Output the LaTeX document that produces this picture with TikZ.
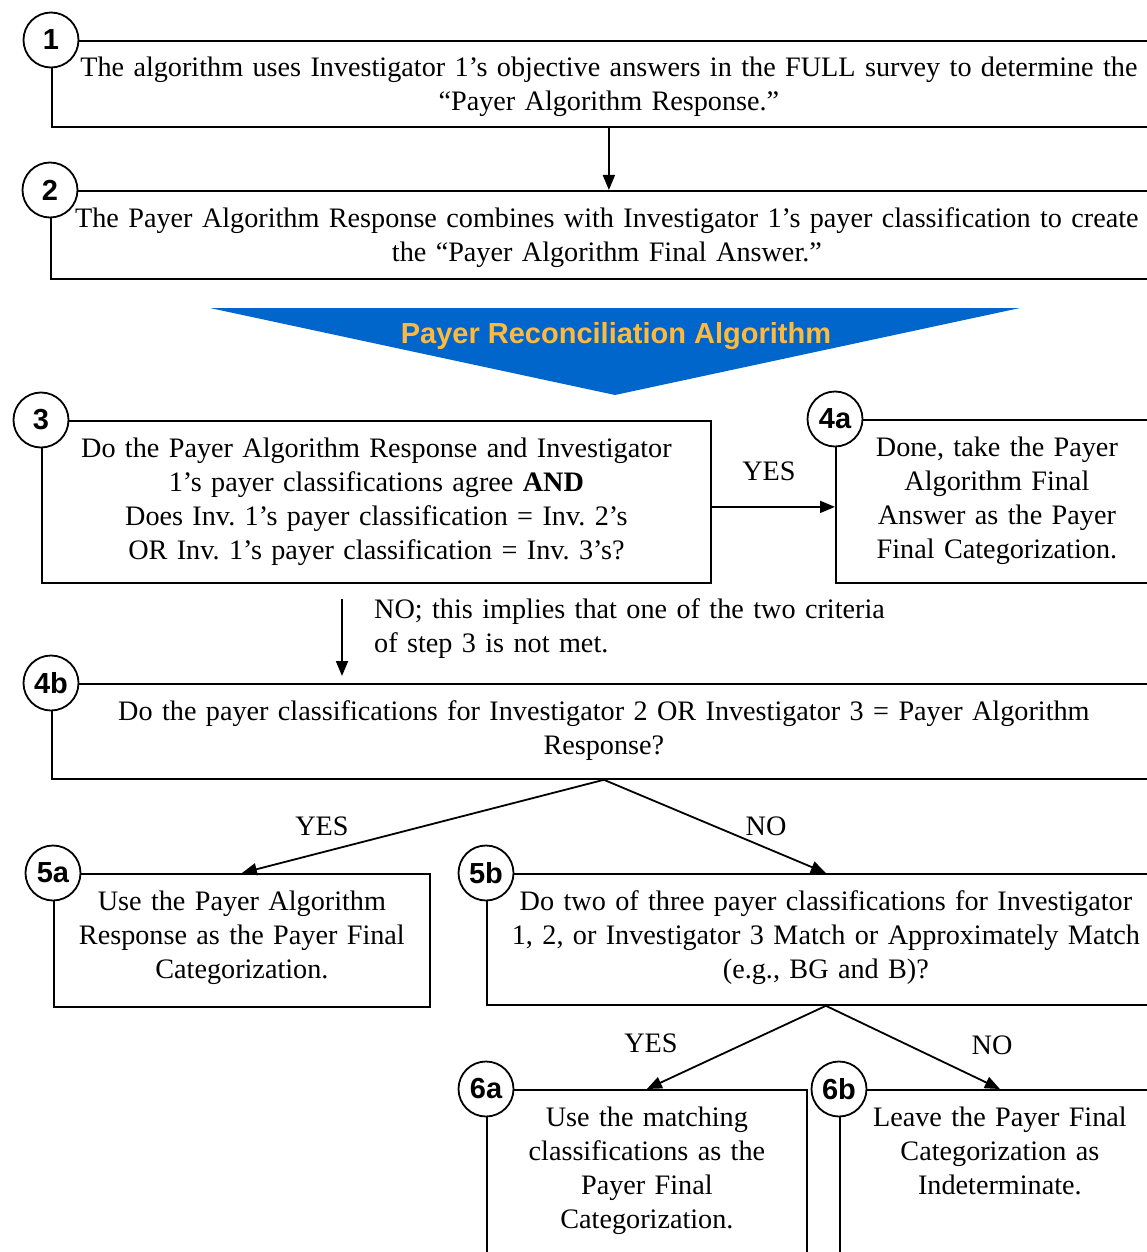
\documentclass[tikz,border=0pt]{standalone}
\usepackage{fontspec}
\setmainfont{Liberation Serif}
\newfontfamily\arialfont{Liberation Sans}
\usetikzlibrary{arrows.meta,positioning}
\frenchspacing

\definecolor{bannerblue}{RGB}{0,102,204}
\definecolor{bannergold}{RGB}{255,185,60}

\newcommand{\stepfont}{\fontsize{28.2}{34}\selectfont}

\tikzstyle{stepbox} = [rectangle, draw=black, line width=1.8pt, inner sep=0pt, anchor=north west]
\tikzstyle{steptext} = [inner sep=0pt, align=center, anchor=base, font=\stepfont]
\tikzstyle{stepnum} = [circle, draw=black, fill=white, line width=1.8pt, minimum size=55pt, inner sep=0pt, font=\arialfont\bfseries\fontsize{29}{29}\selectfont]
\tikzstyle{answer} = [inner sep=0pt, font=\stepfont]
\tikzstyle{arrow} = [line width=1.8pt, -{Triangle[length=15pt,width=12pt]}]

\begin{document}
\begin{tikzpicture}[x=1pt, y=-1pt]
        \useasboundingbox (0,0) rectangle (1147,1252);
        \clip (0,0) rectangle (1147,1252);

        % Boxes
        \node (b1) [stepbox, minimum width=1114pt, minimum height=86pt] at (51,40) {};
        \node (b2) [stepbox, minimum width=1112pt, minimum height=88pt] at (50,190) {};
        \node (b3) [stepbox, minimum width=669pt, minimum height=162pt] at (41,420) {};
        \node (b4a) [stepbox, minimum width=322pt, minimum height=163pt] at (835,419) {};
        \node (b4b) [stepbox, minimum width=1104pt, minimum height=95pt] at (51,683) {};
        \node (b5a) [stepbox, minimum width=376pt, minimum height=133pt] at (53,873) {};
        \node (b5b) [stepbox, minimum width=678pt, minimum height=131pt] at (486,873) {};
        \node (b6a) [stepbox, minimum width=320pt, minimum height=211pt] at (486,1089) {};
        \node (b6b) [stepbox, minimum width=320pt, minimum height=211pt] at (839,1089) {};

        % Step numbers
        \node (n1) [stepnum] at (b1.north west) {1};
        \node (n2) [stepnum] at (b2.north west) {2};
        \node (n3) [stepnum] at (b3.north west) {3};
        \node (n4a) [stepnum] at (b4a.north west) {4a};
        \node (n4b) [stepnum] at (b4b.north west) {4b};
        \node (n5a) [stepnum] at (b5a.north west) {5a};
        \node (n5b) [stepnum] at (b5b.north west) {5b};
        \node (n6a) [stepnum] at (b6a.north west) {6a};
        \node (n6b) [stepnum] at (b6b.north west) {6b};

        % Texts
        \node (t1) [steptext, text width=1100pt] at ([yshift=-37pt]b1.north) {The algorithm uses Investigator 1’s objective answers in the FULL survey to determine the\\“Payer Algorithm Response.”};
        \node (t2) [steptext, text width=1100pt] at ([yshift=-37pt]b2.north) {The Payer Algorithm Response combines with Investigator 1’s payer classification to create\\the “Payer Algorithm Final Answer.”};
        \node (t3) [steptext, text width=660pt] at ([yshift=-37pt]b3.north) {Do the Payer Algorithm Response and Investigator\\1’s payer classifications agree \textbf{AND}\\Does Inv. 1’s payer classification = Inv. 2’s\\OR Inv. 1’s payer classification = Inv. 3’s?};
        \node (t4a) [steptext, text width=316pt] at ([yshift=-37pt]b4a.north) {Done, take the Payer\\Algorithm Final\\Answer as the Payer\\Final Categorization.};
        \node (t4b) [steptext, text width=1090pt] at ([yshift=-37pt]b4b.north) {Do the payer classifications for Investigator 2 OR Investigator 3 = Payer Algorithm\\Response?};
        \node (t5a) [steptext, text width=370pt] at ([yshift=-37pt]b5a.north) {Use the Payer Algorithm\\Response as the Payer Final\\Categorization.};
        \node (t5b) [steptext, text width=670pt] at ([yshift=-37pt]b5b.north) {Do two of three payer classifications for Investigator\\1, 2, or Investigator 3 Match or Approximately Match\\(e.g., BG and B)?};
        \node (t6a) [steptext, text width=314pt] at ([yshift=-37pt]b6a.north) {Use the matching\\classifications as the\\Payer Final\\Categorization.};
        \node (t6b) [steptext, text width=314pt] at ([yshift=-37pt]b6b.north) {Leave the Payer Final\\Categorization as\\Indeterminate.};

        % Banner
        \fill [bannerblue] (210,308) -- (1020,308) -- (615,395) -- cycle;
        \node (title) [inner sep=0pt, anchor=base, text=bannergold, font=\arialfont\bfseries\fontsize{29}{34}\selectfont] at (616,343) {Payer Reconciliation Algorithm};

        % Labels
        \node (yes1) [answer] at (769,471) {YES};
        \node (no1) [answer, text width=540pt, align=left, anchor=base west] at (374,618) {NO; this implies that one of the two criteria\\of step 3 is not met.};
        \node (yes2) [answer] at (322,826) {YES};
        \node (no2) [answer] at (766,826) {NO};
        \node (yes3) [answer] at (651,1043) {YES};
        \node (no3) [answer] at (992,1045) {NO};

        % Arrows
        \coordinate (nox) at (342,0);
        \draw [arrow] (b1.south) -- (b1.south |- b2.north);
        \draw [arrow] ([yshift=-5pt]b3.east) -- ([yshift=-5pt]b3.east -| b4a.west);
        \draw [arrow, shorten <=15pt, shorten >=7pt] (b3.south -| nox) -- (b4b.north -| nox);
        \draw [arrow] (b4b.south) -- (b5a.north);
        \draw [arrow] (b4b.south) -- (b5b.north);
        \draw [arrow] (b5b.south) -- (b6a.north);
        \draw [arrow] (b5b.south) -- (b6b.north);
    \end{tikzpicture}
\end{document}
